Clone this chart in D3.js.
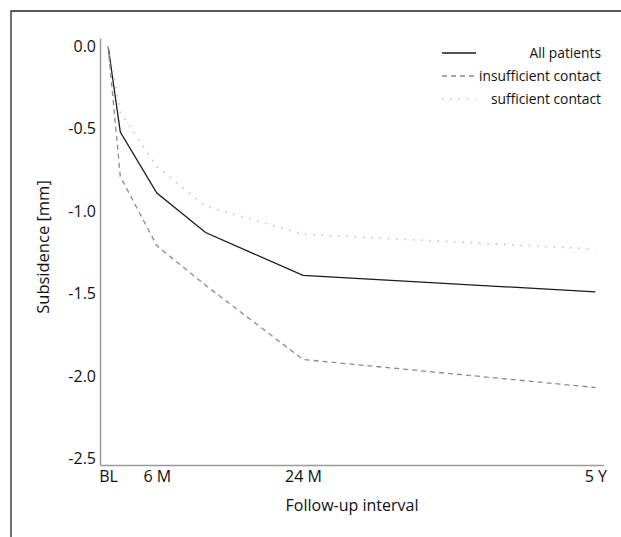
<!DOCTYPE html>
<html>
<head>
<meta charset="utf-8">
<script src="https://cdn.jsdelivr.net/npm/d3@7"></script>
<style>
  body { margin: 0; background: #fff; }
  text { font-family: "Open Sans", "DejaVu Sans", sans-serif; fill: #111; }
</style>
</head>
<body>
<div id="chart"></div>
<script>
// follow-up time in months
var months = [0, 1.5, 6, 12, 24, 60];
var tickMonths = [0, 6, 24, 60];
var tickLabels = ["BL", "6 M", "24 M", "5 Y"];
var yTicks = [0, -0.5, -1.0, -1.5, -2.0, -2.5];

var seriesNames = ["All patients", "insufficient contact", "sufficient contact"];
var allPatients = [0, -0.52, -0.89, -1.13, -1.39, -1.49];
var insufficient = [0, -0.79, -1.21, -1.45, -1.90, -2.07];
var sufficient = [0, -0.40, -0.73, -0.97, -1.14, -1.23];

var width = 621, height = 537;

var svg = d3.select("#chart")
  .append("svg")
  .attr("width", width)
  .attr("height", height);

// outer frame (top + left only)
svg.append("path")
  .attr("d", "M11,537V11H621")
  .attr("fill", "none")
  .attr("stroke", "#222")
  .attr("stroke-width", 1.3);

var x = d3.scaleLinear().domain([-1, 61]).range([100, 603.5]);
var y = d3.scaleLinear().domain([0.05, -2.54]).range([38, 465]);

// axes
var yAxis = svg.append("g")
  .attr("transform", "translate(100,0)")
  .call(d3.axisLeft(y).tickValues(yTicks).tickSize(0).tickPadding(4)
    .tickFormat(function (d) { return d.toFixed(1); }));

var xAxis = svg.append("g")
  .attr("transform", "translate(0,465)")
  .call(d3.axisBottom(x).tickValues(tickMonths).tickSize(0).tickPadding(6)
    .tickFormat(function (d, i) { return tickLabels[i]; }));

[xAxis, yAxis].forEach(function (a) {
  a.select(".domain").attr("stroke", "#9a9a9a").attr("stroke-width", 1.5);
  a.selectAll("text").attr("font-size", 16).attr("fill", "#111")
    .style("font-family", "'Open Sans', 'DejaVu Sans', sans-serif");
});

svg.append("text")
  .attr("x", 352)
  .attr("y", 511)
  .attr("text-anchor", "middle")
  .attr("font-size", 16)
  .text("Follow-up interval");

svg.append("text")
  .attr("transform", "translate(49,247) rotate(-90)")
  .attr("text-anchor", "middle")
  .attr("font-size", 16.5)
  .text("Subsidence [mm]");

var styles = [
  { color: "#1a1a1a", dash: null, w: 1.3 },
  { color: "#8a8a8a", dash: "5,4", w: 1.3 },
  { color: "#bdbdbd", dash: "1.3,7", w: 1.7 }
];
var series = [allPatients, insufficient, sufficient];

var line = d3.line()
  .x(function (d, i) { return x(months[i]); })
  .y(function (d) { return y(d); });

svg.selectAll(".series")
  .data(series)
  .enter()
  .append("path")
  .attr("class", "series")
  .attr("d", line)
  .attr("fill", "none")
  .attr("stroke", function (d, i) { return styles[i].color; })
  .attr("stroke-width", function (d, i) { return styles[i].w; })
  .attr("stroke-dasharray", function (d, i) { return styles[i].dash; });

// legend
var legend = svg.selectAll(".legend")
  .data(seriesNames)
  .enter()
  .append("g")
  .attr("class", "legend")
  .attr("transform", function (d, i) { return "translate(0," + (53 + i * 23) + ")"; });

legend.append("line")
  .attr("x1", 442).attr("x2", 476)
  .attr("stroke", function (d, i) { return styles[i].color; })
  .attr("stroke-width", function (d, i) { return styles[i].w; })
  .attr("stroke-dasharray", function (d, i) { return styles[i].dash; });

legend.append("text")
  .attr("x", 601)
  .attr("dy", "0.35em")
  .attr("text-anchor", "end")
  .attr("font-size", 13.8)
  .text(function (d) { return d; });
</script>
</body>
</html>
